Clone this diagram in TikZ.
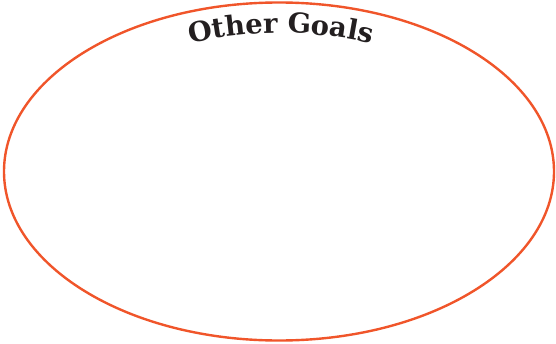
\documentclass[tikz,border=0pt]{standalone}
\usepackage{fontspec}
\setmainfont{DejaVu Serif}
\usetikzlibrary{shapes.geometric,decorations.text}
\definecolor{goalorange}{HTML}{F0552A}
\definecolor{goalink}{HTML}{231F20}

\begin{document}
\begin{tikzpicture}[x=1bp,y=1bp,
    goalring/.style={ellipse,draw=goalorange,line width=2.4bp,inner sep=0pt,
      minimum width=550bp,minimum height=338bp}]
  \useasboundingbox (0,0) rectangle (556,343);
  \node[goalring] (goals) at (279,171.5) {};
  \coordinate (arcmid) at (281,-90);

  % title bent along the top of the ring
  \path[decorate,decoration={text along path,text align=center,
      text={|\color{goalink}\bfseries\fontsize{27.5}{32}\selectfont|Other Goals}}]
    ([shift={(118:400)}]arcmid) arc[start angle=118,end angle=62,radius=400];
\end{tikzpicture}
\end{document}
